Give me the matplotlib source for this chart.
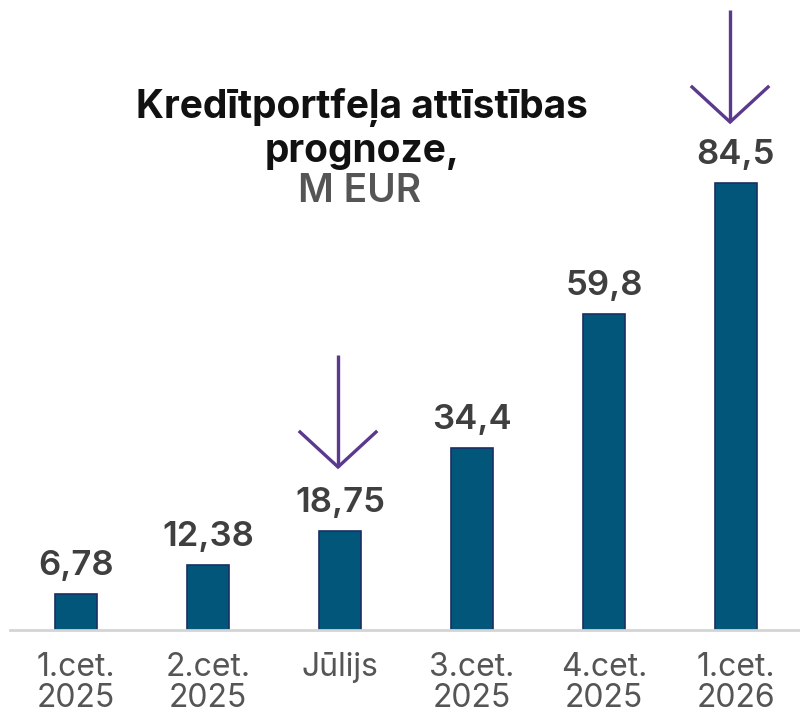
import matplotlib
matplotlib.use('Agg')
import matplotlib.pyplot as plt

categories = ['1.cet.\n2025', '2.cet.\n2025', 'Jūlijs', '3.cet.\n2025', '4.cet.\n2025', '1.cet.\n2026']
values = [6.78, 12.38, 18.75, 34.4, 59.8, 84.5]
value_labels = ['6,78', '12,38', '18,75', '34,4', '59,8', '84,5']
arrow_idx = [2, 5]

plt.rcParams['font.family'] = ['Inter', 'DejaVu Sans']

W, H = 800, 714
fig = plt.figure(figsize=(W / 100, H / 100), dpi=100)
base_px = 630
ax = fig.add_axes([10 / W, (H - base_px) / H, 792 / W, base_px / H])

px_per_unit = 447 / 84.5
ax.set_xlim(-0.5, len(values) - 0.5)
ax.set_ylim(0, base_px / px_per_unit)

x = list(range(len(values)))
ax.bar(x, values, width=0.32, color='#02567a', edgecolor='#1b2f63', linewidth=1.2, zorder=2)

for xi, v, lab in zip(x, values, value_labels):
    ax.annotate(lab, (xi, v), xytext=(0, 12), textcoords='offset pixels',
                ha='center', va='bottom', fontsize=25, color='#3f3f3f', fontweight='semibold')

# purple arrows above the selected bars (pixel positions)
for i, (dx, top_px, tip_px) in zip(arrow_idx, [(-0.015, 355, 467), (-0.045, 10, 122)]):
    xc = i + dx
    y_top = (base_px - top_px) / px_per_unit
    y_tip = (base_px - tip_px) / px_per_unit
    wing_dx = 38 / 132
    wing_dy = 35 / px_per_unit
    ax.plot([xc, xc], [y_top, y_tip], color='#5b3a8e', lw=2.4, clip_on=False, solid_capstyle='butt')
    ax.plot([xc - wing_dx, xc, xc + wing_dx], [y_tip + wing_dy, y_tip, y_tip + wing_dy],
            color='#5b3a8e', lw=2.4, clip_on=False, solid_joinstyle='miter')

ax.set_xticks(x)
ax.set_xticklabels(categories, fontsize=23, color='#555555', fontweight='normal', linespacing=1.0)
ax.tick_params(axis='x', length=0, pad=16)
ax.set_yticks([])
for s in ['top', 'right', 'left']:
    ax.spines[s].set_visible(False)
ax.spines['bottom'].set_color('#d4d4d4')
ax.spines['bottom'].set_linewidth(2)

fig.text(362 / W, 1 - 118 / H, 'Kredītportfeļa attīstības', ha='center', va='baseline',
         fontsize=28, fontweight='bold', color='#111111')
fig.text(362 / W, 1 - 162 / H, 'prognoze,', ha='center', va='baseline',
         fontsize=28, fontweight='bold', color='#111111')
fig.text(360 / W, 1 - 202 / H, 'M EUR', ha='center', va='baseline',
         fontsize=28, fontweight='semibold', color='#555555')

fig.savefig('out.png', dpi=100)
